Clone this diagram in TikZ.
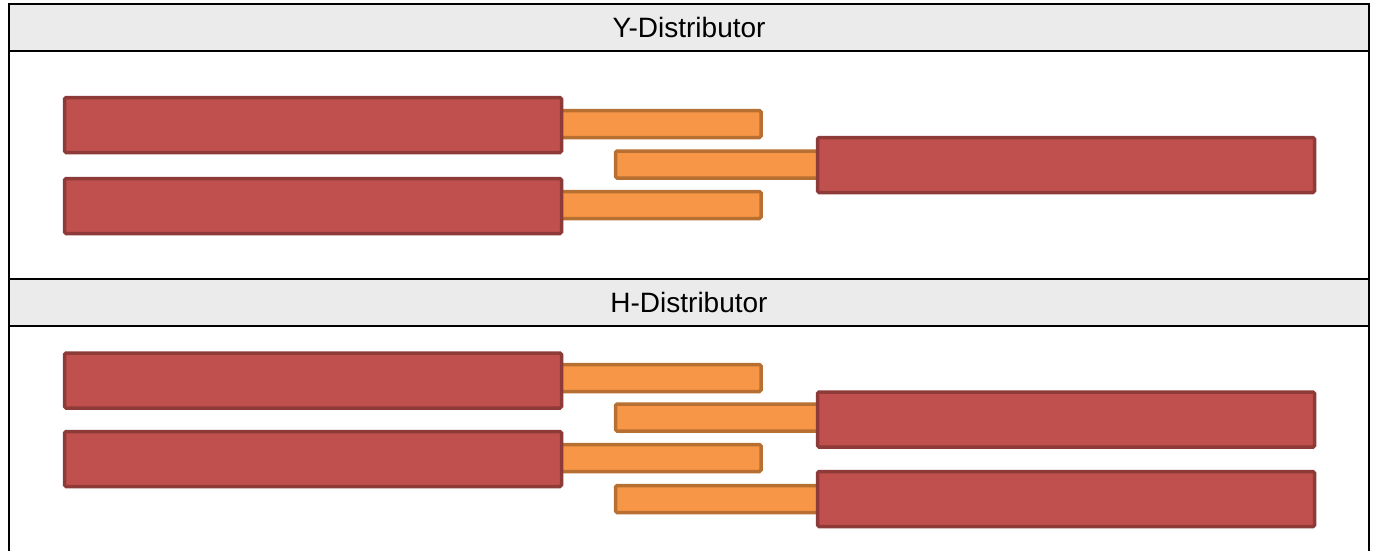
\documentclass[tikz,border=0pt]{standalone}
\usepackage{fontspec}
\setmainfont{Liberation Sans}
\definecolor{hdrgray}{HTML}{EBEBEB}
\definecolor{redfill}{HTML}{C0504D}
\definecolor{redline}{HTML}{8E3A38}
\definecolor{orfill}{HTML}{F79646}
\definecolor{orline}{HTML}{B86F32}
\tikzset{
  header/.style={draw=black, line width=2.5pt, fill=hdrgray, minimum width=1360pt, minimum height=47pt,
    anchor=north west, inner sep=0pt, outer sep=0pt, font=\fontsize{28}{32}\selectfont},
  redbar/.style={draw=redline, fill=redfill, line width=3.5pt, rounded corners=1.5pt,
    minimum width=497pt, minimum height=55pt, anchor=north west, inner sep=0pt, outer sep=0pt},
  orbar/.style={draw=orline, fill=orfill, line width=3.5pt, rounded corners=1.5pt,
    minimum height=27pt, anchor=north west, inner sep=0pt, outer sep=0pt},
  frameline/.style={draw=black, line width=2.5pt}
}
\begin{document}
\begin{tikzpicture}[x=1pt, y=-1pt]
\useasboundingbox (0,0) rectangle (1375,551);
\begin{scope}
\clip (0,0) rectangle (1375,551);
% headers
\node[header] (hy) at (9,4) {Y-Distributor};
\node[header] (hh) at (9,279) {H-Distributor};
% frame sides
\coordinate (bl) at (9,570);
\coordinate (br) at (1369,570);
\draw[frameline] (hy.north west) -- (bl);
\draw[frameline] (hy.north east) -- (br);
\draw[frameline] (hy.north west) -- (hy.north east);
\end{scope}
% Y-Distributor
\node[orbar, minimum width=206pt] (yo1) at (555,110.5) {};
\node[orbar, minimum width=209pt] (yo2) at (615.5,151) {};
\node[orbar, minimum width=206pt] (yo3) at (555,191.5) {};
\node[redbar] (yl1) at (64.5,97.5) {};
\node[redbar] (yl2) at (64.5,178.5) {};
\node[redbar] (yr) at (817.5,137.5) {};
% H-Distributor
\node[orbar, minimum width=206pt] (ho1) at (555,364.5) {};
\node[orbar, minimum width=209pt] (ho2) at (615.5,404) {};
\node[orbar, minimum width=206pt] (ho3) at (555,444.5) {};
\node[orbar, minimum width=209pt] (ho4) at (615.5,485.5) {};
\node[redbar] (hl1) at (64.5,353) {};
\node[redbar] (hl2) at (64.5,431.5) {};
\node[redbar] (hr1) at (817.5,392) {};
\node[redbar] (hr2) at (817.5,471.5) {};
\end{tikzpicture}
\end{document}
